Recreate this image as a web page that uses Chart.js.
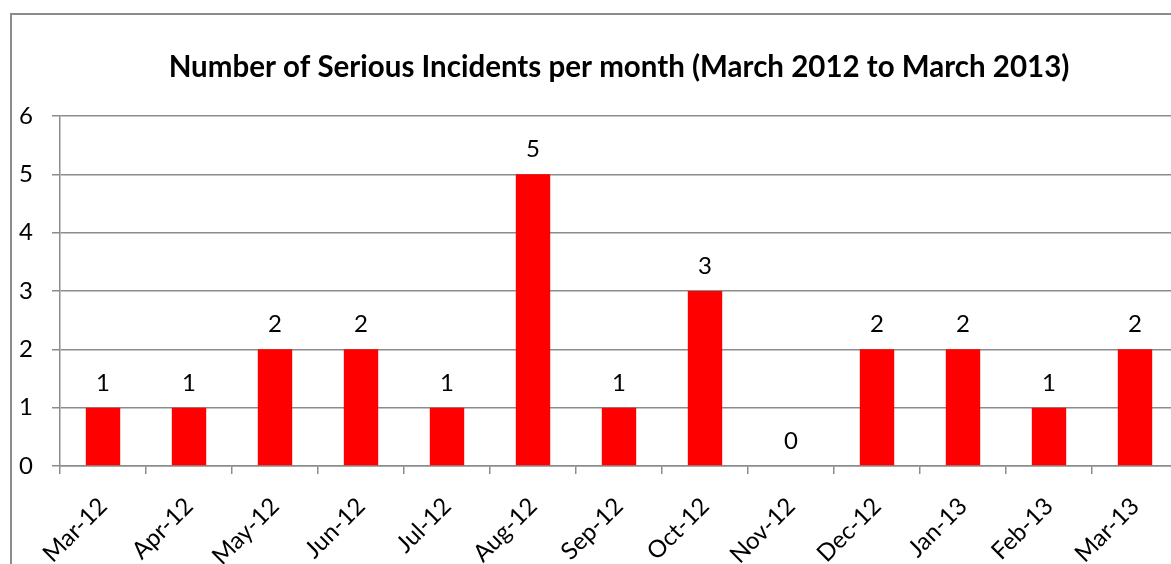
<!DOCTYPE html>
<html>
<head>
<meta charset="utf-8">
<script src="https://cdn.jsdelivr.net/npm/chart.js@4"></script>
<style>
    html, body { margin: 0; padding: 0; overflow: hidden; background: #fff; }
    body { width: 1171px; height: 564px; position: relative; }
    #frame {
        position: absolute; left: 10px; top: 13px;
        width: 1300px; height: 700px;
        border: 2px solid #8c8c8c;
    }
    #wrap { position: absolute; left: 12px; top: 15px; width: 1166px; height: 560px; }
</style>
</head>
<body>
<div id="frame"></div>
<div id="wrap"><canvas id="siChart"></canvas></div>
<script>
const chartTitle = 'Number of Serious Incidents per month (March 2012 to March 2013)';
const months = ['Mar-12', 'Apr-12', 'May-12', 'Jun-12', 'Jul-12', 'Aug-12', 'Sep-12',
                'Oct-12', 'Nov-12', 'Dec-12', 'Jan-13', 'Feb-13', 'Mar-13'];
const incidents = [1, 1, 2, 2, 1, 5, 1, 3, 0, 2, 2, 1, 2];
const yMin = 0, yMax = 6, yStep = 1;

const fontFamily = 'Lato, "Open Sans", sans-serif';
const gridGray = '#8c8c8c';

// titulo centrado na area do grafico (como no Excel)
const titlePlugin = {
    id: 'centredTitle',
    afterDraw(chart) {
        const c = chart.ctx, a = chart.chartArea;
        c.save();
        c.font = 'bold 29.5px ' + fontFamily;
        c.fillStyle = '#000';
        c.textAlign = 'center';
        c.textBaseline = 'middle';
        c.fillText(chartTitle, (a.left + a.right) / 2, 52);
        c.restore();
    }
};

// rotulos de valor acima das barras
const valueLabels = {
    id: 'valueLabels',
    afterDatasetsDraw(chart) {
        const c = chart.ctx;
        const meta = chart.getDatasetMeta(0);
        c.save();
        c.font = '24px ' + fontFamily;
        c.fillStyle = '#000';
        c.textAlign = 'center';
        c.textBaseline = 'alphabetic';
        meta.data.forEach((bar, i) => {
            c.fillText(String(incidents[i]), bar.x, bar.y - 17);
        });
        c.restore();
    }
};

new Chart(document.getElementById('siChart'), {
    type: 'bar',
    data: {
        labels: months,
        datasets: [{
            data: incidents,
            backgroundColor: '#ff0000',
            borderWidth: 0,
            barPercentage: 0.4,
            categoryPercentage: 1.0
        }]
    },
    options: {
        responsive: true,
        maintainAspectRatio: false,
        animation: false,
        layout: { padding: { top: 101, left: 0, right: 0, bottom: 0 } },
        plugins: {
            legend: { display: false },
            title: { display: false },
            tooltip: { enabled: false }
        },
        scales: {
            x: {
                offset: true,
                grid: { offset: true, drawOnChartArea: false, drawTicks: true, tickLength: 8, color: gridGray, lineWidth: 1.5 },
                border: { display: true, color: gridGray, width: 1.5 },
                ticks: {
                    color: '#000',
                    font: { family: fontFamily, size: 24 },
                    minRotation: 45, maxRotation: 45,
                    padding: 18,
                    autoSkip: false
                },
                afterFit(scale) { scale.height = 109; }
            },
            y: {
                min: yMin, max: yMax,
                ticks: {
                    stepSize: yStep,
                    color: '#000',
                    font: { family: fontFamily, size: 24 },
                    padding: 19
                },
                grid: { color: gridGray, lineWidth: 1.5, tickLength: 8 },
                border: { display: true, color: gridGray, width: 1.5 },
                afterFit(scale) { scale.width = 48; }
            }
        }
    },
    plugins: [titlePlugin, valueLabels]
});
</script>
</body>
</html>
